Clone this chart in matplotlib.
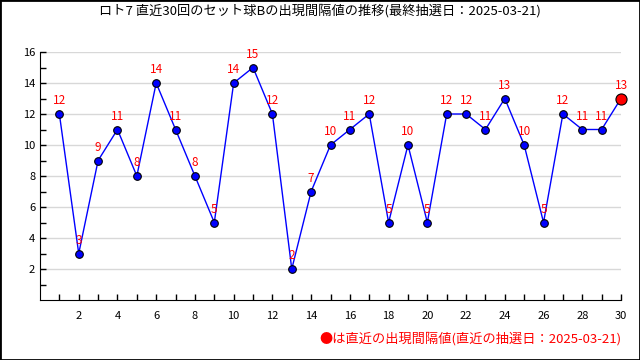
import matplotlib.pyplot as plt
from matplotlib.patches import Rectangle

plt.rcParams['font.family'] = ['Noto Sans CJK JP', 'DejaVu Sans']

draws = list(range(1, 31))
intervals = [12, 3, 9, 11, 8, 14, 11, 8, 5, 14, 15, 12, 2, 7, 10,
             11, 12, 5, 10, 5, 12, 12, 11, 13, 10, 5, 12, 11, 11, 13]
title = 'ロト7 直近30回のセット球Bの出現間隔値の推移(最終抽選日：2025-03-21)'
note = '●は直近の出現間隔値(直近の抽選日：2025-03-21)'

fig = plt.figure(figsize=(6.4, 3.6), dpi=100)
ax = fig.add_axes([40 / 640, 60 / 360, 581 / 640, 248 / 360])

ax.plot(draws, intervals, color='blue', linewidth=1, marker='o', markersize=5.5,
        markerfacecolor='blue', markeredgecolor='black', markeredgewidth=0.8,
        zorder=3, clip_on=False)
ax.plot(draws[-1], intervals[-1], marker='o', markersize=8, markerfacecolor='red',
        markeredgecolor='black', markeredgewidth=0.8, zorder=4, clip_on=False)

for x, y in zip(draws, intervals):
    ax.annotate(str(y), (x, y), xytext=(0, 5), textcoords='offset points',
                ha='center', va='bottom', color='red', fontsize=8.5,
                annotation_clip=False)

ax.set_xlim(0, 30)
ax.set_ylim(0, 16)
ax.set_xticks(range(2, 31, 2))
ax.set_xticks(range(1, 31, 2), minor=True)
ax.set_yticks(range(2, 17, 2))
ax.set_yticks(range(1, 17, 2), minor=True)
ax.tick_params(axis='both', which='both', direction='in', length=4, width=1, labelsize=8)
ax.tick_params(axis='x', pad=8)
ax.grid(axis='y', which='major', color='#d8d8d8', linewidth=1)
ax.set_axisbelow(True)
for s in ['top', 'right']:
    ax.spines[s].set_visible(False)

fig.text(0.5, 1 - 11 / 360, title, ha='center', va='center', fontsize=9.5)
fig.text(621 / 640, 1 - 339 / 360, note, ha='right', va='center', fontsize=9.5, color='red')

fig.patches.append(Rectangle((0, 0), 1, 1, transform=fig.transFigure, fill=False,
                             edgecolor='black', linewidth=2))

plt.savefig('out.png', dpi=100)
